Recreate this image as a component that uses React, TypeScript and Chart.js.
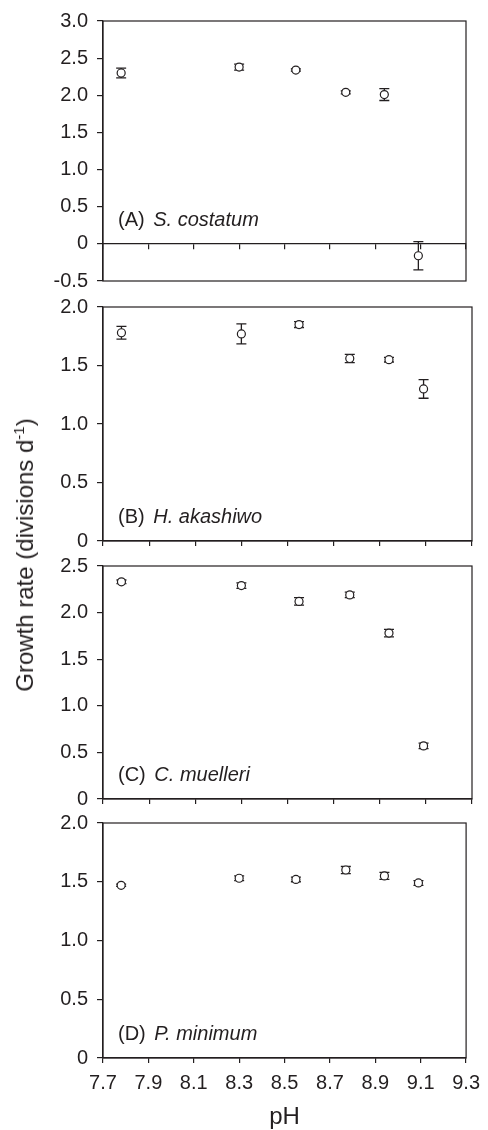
import React, { useEffect, useRef } from 'react';
import { Chart, registerables } from 'chart.js';

Chart.register(...registerables);

// ---------- data ----------
const pHValues = [7.78, 8.3, 8.55, 8.77, 8.94, 9.09];
const pHTicks = [7.7, 7.9, 8.1, 8.3, 8.5, 8.7, 8.9, 9.1, 9.3];

const rateA = [2.3, 2.38, 2.34, 2.04, 2.01, -0.16];
const errA = [0.065, 0.04, 0.015, 0.02, 0.08, 0.19];
const rateB = [1.78, 1.77, 1.85, 1.56, 1.55, 1.3];
const errB = [0.055, 0.085, 0.025, 0.035, 0.02, 0.08];
const rateC = [2.33, 2.29, 2.12, 2.19, 1.78, 0.57];
const errC = [0.02, 0.03, 0.04, 0.03, 0.04, 0.03];
const rateD = [1.47, 1.53, 1.52, 1.6, 1.55, 1.49];
const errD = [0.01, 0.02, 0.02, 0.03, 0.03, 0.02];

const ticksA = [-0.5, 0, 0.5, 1.0, 1.5, 2.0, 2.5, 3.0];
const ticksB = [0, 0.5, 1.0, 1.5, 2.0];
const ticksC = [0, 0.5, 1.0, 1.5, 2.0, 2.5];
const ticksD = [0, 0.5, 1.0, 1.5, 2.0];

const panelLetters = ['(A)', '(B)', '(C)', '(D)'];
const speciesNames = ['S. costatum', 'H. akashiwo', 'C. muelleri', 'P. minimum'];
const yTitleMain = 'Growth rate (divisions d';
const yTitleSup = '-1';
const yTitleEnd = ')';
const xTitle = 'pH';

// ---------- styles ----------
const INK = '#231f20';
const FONT = '"Liberation Sans", Arial, Helvetica, sans-serif';
const FSIZE = 20;
const TSIZE = 24;

type PanelSpec = {
  rates: number[];
  errs: number[];
  yTicks: number[];
  letter: string;
  species: string;
  canvasTop: number;
  height: number;
  padTop: number;
  padRight: number;
  padBottom: number;
  xHeight: number | null;
  zeroAxis: boolean;
  showX: boolean;
};

const panels: PanelSpec[] = [
  { rates: rateA, errs: errA, yTicks: ticksA, letter: panelLetters[0], species: speciesNames[0],
    canvasTop: 0, height: 302, padTop: 16, padRight: 22, padBottom: 20, xHeight: null, zeroAxis: true, showX: false },
  { rates: rateB, errs: errB, yTicks: ticksB, letter: panelLetters[1], species: speciesNames[1],
    canvasTop: 286, height: 276, padTop: 20, padRight: 16, padBottom: 0, xHeight: 20, zeroAxis: false, showX: false },
  { rates: rateC, errs: errC, yTicks: ticksC, letter: panelLetters[2], species: speciesNames[2],
    canvasTop: 545, height: 275, padTop: 20, padRight: 16, padBottom: 0, xHeight: 20, zeroAxis: false, showX: false },
  { rates: rateD, errs: errD, yTicks: ticksD, letter: panelLetters[3], species: speciesNames[3],
    canvasTop: 802, height: 328, padTop: 20, padRight: 16, padBottom: 0, xHeight: 72, zeroAxis: false, showX: true },
];

function Panel({ spec }: { spec: PanelSpec }) {
  const ref = useRef<HTMLCanvasElement | null>(null);
  useEffect(() => {
    const canvas = ref.current;
    if (!canvas) return;

    const framePlugin = {
      id: 'frame',
      afterDraw(chart: any) {
        const { ctx, chartArea } = chart;
        ctx.save();
        ctx.strokeStyle = INK;
        ctx.lineWidth = 1.2;
        ctx.strokeRect(chartArea.left, chartArea.top, chartArea.right - chartArea.left, chartArea.bottom - chartArea.top);
        ctx.restore();
      },
    };

    const errorPlugin = {
      id: 'errbars',
      beforeDatasetsDraw(chart: any) {
        const { ctx, scales } = chart;
        ctx.save();
        ctx.strokeStyle = INK;
        ctx.lineWidth = 1.3;
        pHValues.forEach((x, i) => {
          const px = scales.x.getPixelForValue(x);
          const yt = scales.y.getPixelForValue(spec.rates[i] + spec.errs[i]);
          const yb = scales.y.getPixelForValue(spec.rates[i] - spec.errs[i]);
          ctx.beginPath();
          ctx.moveTo(px, yt);
          ctx.lineTo(px, yb);
          ctx.moveTo(px - 5, yt);
          ctx.lineTo(px + 5, yt);
          ctx.moveTo(px - 5, yb);
          ctx.lineTo(px + 5, yb);
          ctx.stroke();
        });
        ctx.restore();
      },
    };

    const labelPlugin = {
      id: 'panelLabel',
      afterDraw(chart: any) {
        const { ctx, chartArea, scales } = chart;
        const y = scales.y.getPixelForValue(0) - 23.5;
        const x = chartArea.left + 15;
        ctx.save();
        ctx.fillStyle = INK;
        ctx.textBaseline = 'middle';
        ctx.textAlign = 'left';
        ctx.font = `${FSIZE}px ${FONT}`;
        ctx.fillText(spec.letter, x, y);
        const w = ctx.measureText(spec.letter + ' ').width;
        ctx.font = `italic ${FSIZE}px ${FONT}`;
        ctx.fillText(spec.species, x + w + 3, y);
        ctx.restore();
      },
    };

    const font = { family: FONT, size: FSIZE };

    const chart = new Chart(canvas, {
      type: 'scatter',
      data: {
        datasets: [
          {
            data: pHValues.map((x, i) => ({ x, y: spec.rates[i] })),
            pointRadius: 4,
            pointBorderWidth: 1.2,
            pointBackgroundColor: '#ffffff',
            pointBorderColor: INK,
            showLine: false,
          },
        ],
      },
      options: {
        responsive: false,
        animation: false,
        events: [],
        layout: { padding: { top: spec.padTop, right: spec.padRight, bottom: spec.padBottom, left: 0 } },
        plugins: { legend: { display: false }, tooltip: { enabled: false } },
        scales: {
          x: {
            type: 'linear',
            min: pHTicks[0],
            max: pHTicks[pHTicks.length - 1],
            position: spec.zeroAxis ? ({ y: 0 } as any) : 'bottom',
            afterBuildTicks: (s: any) => {
              s.ticks = pHTicks.map((v) => ({ value: v }));
            },
            afterFit: (s: any) => {
              if (spec.xHeight !== null) s.height = spec.xHeight;
            },
            grid: { drawOnChartArea: false, drawTicks: true, tickLength: 5, color: INK, lineWidth: 1.2 },
            border: { display: true, color: INK, width: 1.2 },
            ticks: {
              display: spec.showX,
              font,
              color: INK,
              padding: 8,
              maxRotation: 0,
              autoSkip: false,
              callback: (v: any) => Number(v).toFixed(1),
            },
            title: {
              display: spec.showX,
              text: xTitle,
              font: { family: FONT, size: TSIZE, lineHeight: 1 },
              color: INK,
              padding: { top: 0, bottom: 1 },
            },
          },
          y: {
            type: 'linear',
            min: spec.yTicks[0],
            max: spec.yTicks[spec.yTicks.length - 1],
            afterBuildTicks: (s: any) => {
              s.ticks = spec.yTicks.map((v) => ({ value: v }));
            },
            afterFit: (s: any) => {
              s.width = 103;
            },
            grid: { drawOnChartArea: false, drawTicks: true, tickLength: 6, color: INK, lineWidth: 1.2 },
            border: { display: true, color: INK, width: 1.2 },
            ticks: {
              font,
              color: INK,
              padding: 9,
              callback: (v: any) => (Number(v) === 0 ? '0' : Number(v).toFixed(1)),
            },
          },
        },
      } as any,
      plugins: [framePlugin, errorPlugin, labelPlugin],
    });
    return () => chart.destroy();
  }, [spec]);

  return (
    <canvas
      ref={ref}
      width={488}
      height={spec.height}
      style={{ position: 'absolute', left: 0, top: spec.canvasTop, width: 488, height: spec.height }}
    />
  );
}

export default function App() {
  return (
    <div style={{ position: 'absolute', left: 0, top: 0, width: 488, height: 1130, background: '#ffffff', overflow: 'hidden' }}>
      {panels.map((p, i) => (
        <Panel key={i} spec={p} />
      ))}
      <div
        style={{
          position: 'absolute',
          left: 25,
          top: 555,
          transform: 'translate(-50%, -50%) rotate(-90deg)',
          whiteSpace: 'nowrap',
          fontFamily: FONT,
          fontSize: TSIZE,
          color: INK,
          lineHeight: 1,
        }}
      >
        {yTitleMain}
        <sup style={{ fontSize: 15, verticalAlign: 'super', lineHeight: 0 }}>{yTitleSup}</sup>
        {yTitleEnd}
      </div>
    </div>
  );
}
